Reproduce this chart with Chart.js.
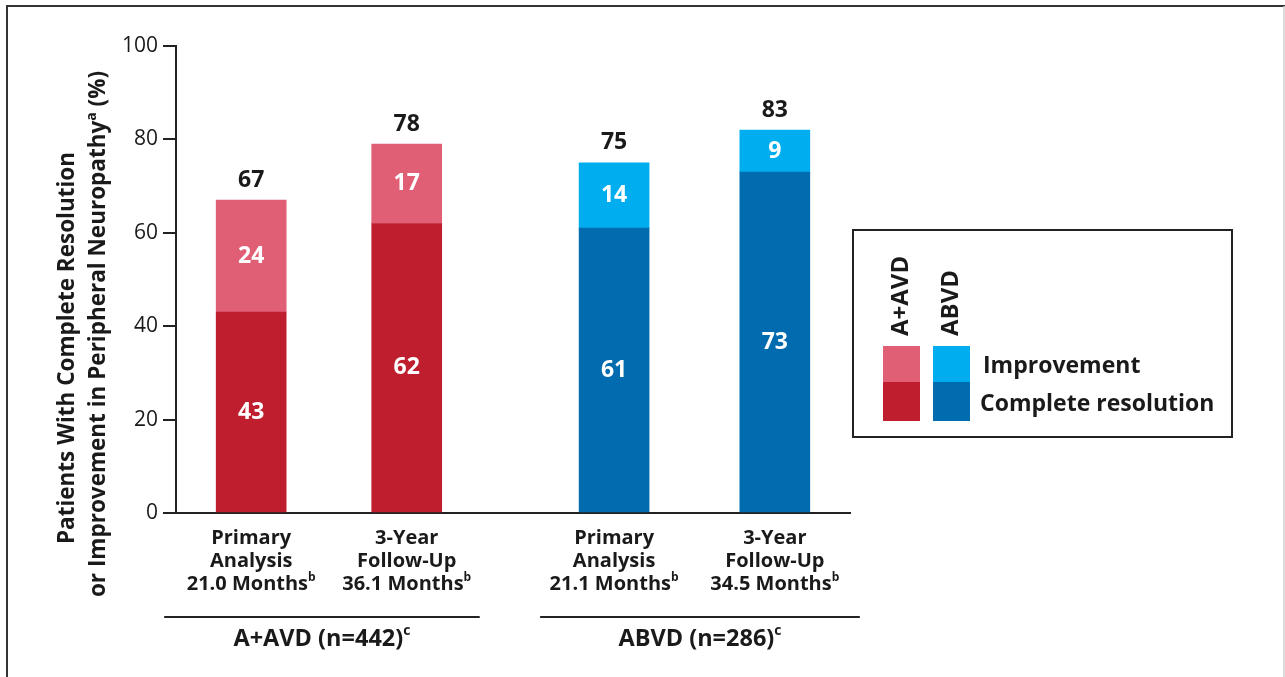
<!DOCTYPE html>
<html>
<head>
<meta charset="utf-8">
<script src="https://cdn.jsdelivr.net/npm/chart.js@4.4.1/dist/chart.umd.min.js"></script>
<style>
html, body { margin: 0; padding: 0; background: #fff; }
#graphCanvas { display: block; }
</style>
</head>
<body>
<canvas id="graphCanvas" width="1285" height="677"></canvas>
<script>
// Categories, one per bar (last line gets a "b" footnote marker)
const barLines = [
    ['Primary', 'Analysis', '21.0 Months'],
    ['3-Year', 'Follow-Up', '36.1 Months'],
    ['Primary', 'Analysis', '21.1 Months'],
    ['3-Year', 'Follow-Up', '34.5 Months']
];
const barNote = 'b';

// Treatment arms under the bars
const groupNames = ['A+AVD (n=442)', 'ABVD (n=286)'];
const groupNote = 'c';
const groupMembers = [[0, 1], [2, 3]];

// Series values (%)
const completeResolution = [43, 62, 61, 73];
const improvement = [24, 17, 14, 9];
const totals = [67, 78, 75, 83];

// Axis
const yTicks = [0, 20, 40, 60, 80, 100];
const yTitleLine1 = 'Patients With Complete Resolution';
const yTitleLine2 = 'or Improvement in Peripheral Neuropathy';

// Legend
const legendArms = ['A+AVD', 'ABVD'];
const legendItems = ['Improvement', 'Complete resolution'];

// Layout / styling
const FONT = '"Open Sans", "DejaVu Sans", sans-serif';
const barSlots = [0, 3, 7, 10.1];
const darkColors = ['#be1e2d', '#be1e2d', '#006bae', '#006bae'];
const lightColors = ['#e15f74', '#e15f74', '#00aeef', '#00aeef'];
const groupLineReach = [[-87, 73], [-74, 85]];
const INK = '#1a1a1a';

const ctx = document.getElementById('graphCanvas').getContext('2d');

// Text with a raised footnote marker, centred on x
function drawRich(c, parts, x, y, size, color) {
    const big = `700 ${size}px ${FONT}`;
    const small = `700 ${Math.round(size * 0.6)}px ${FONT}`;
    let w = 0;
    parts.forEach(p => {
        c.font = p.sup ? small : big;
        p.w = c.measureText(p.t).width;
        w += p.w;
    });
    let cx = x - w / 2;
    c.textAlign = 'left';
    c.textBaseline = 'middle';
    c.fillStyle = color;
    parts.forEach(p => {
        c.font = p.sup ? small : big;
        c.fillText(p.t, cx, p.sup ? y - size * 0.33 : y);
        cx += p.w;
    });
}

const decorations = {
    id: 'decorations',
    beforeDraw(chart) {
        const c = chart.ctx;
        c.save();
        c.fillStyle = '#fff';
        c.fillRect(0, 0, chart.width, chart.height);
        // page frame
        c.strokeStyle = '#333';
        c.lineWidth = 2;
        c.beginPath();
        c.moveTo(7, chart.height);
        c.lineTo(7, 6);
        c.lineTo(chart.width, 6);
        c.stroke();
        c.strokeStyle = '#cfcfcf';
        c.lineWidth = 1.5;
        c.beginPath();
        c.moveTo(chart.width - 1, 6);
        c.lineTo(chart.width - 1, chart.height);
        c.stroke();
        c.restore();
    },
    afterDatasetsDraw(chart) {
        const c = chart.ctx;
        const low = chart.getDatasetMeta(0).data;
        const high = chart.getDatasetMeta(1).data;
        c.save();
        c.textAlign = 'center';
        c.textBaseline = 'middle';
        c.font = `700 23px ${FONT}`;
        c.fillStyle = '#fff';
        low.forEach((el, i) => c.fillText(String(completeResolution[i]), el.x, (el.y + el.base) / 2));
        high.forEach((el, i) => c.fillText(String(improvement[i]), el.x, (el.y + el.base) / 2));
        c.fillStyle = INK;
        high.forEach((el, i) => c.fillText(String(totals[i]), el.x, el.y - 20));
        c.restore();
    },
    afterDraw(chart) {
        const c = chart.ctx;
        const area = chart.chartArea;
        const xs = chart.scales.x;
        c.save();

        // y axis title, two rotated lines
        c.translate(68, 348);
        c.rotate(-Math.PI / 2);
        drawRich(c, [{ t: yTitleLine1 }], 0, 0, 22.5, INK);
        c.restore();
        c.save();
        c.translate(99, 334);
        c.rotate(-Math.PI / 2);
        drawRich(c, [{ t: yTitleLine2 }, { t: 'a', sup: true }, { t: ' (%)' }], 0, 0, 22.5, INK);
        c.restore();

        // bar category labels
        c.save();
        barLines.forEach((lines, i) => {
            const x = xs.getPixelForValue(barSlots[i]);
            lines.forEach((line, j) => {
                const parts = j === lines.length - 1 ? [{ t: line }, { t: barNote, sup: true }] : [{ t: line }];
                drawRich(c, parts, x, area.bottom + 25 + j * 23, 20, INK);
            });
        });

        // arm brackets and names
        groupNames.forEach((name, g) => {
            const members = groupMembers[g];
            const x0 = xs.getPixelForValue(barSlots[members[0]]) + groupLineReach[g][0];
            const x1 = xs.getPixelForValue(barSlots[members[members.length - 1]]) + groupLineReach[g][1];
            c.strokeStyle = '#222';
            c.lineWidth = 2;
            c.beginPath();
            c.moveTo(x0, area.bottom + 104);
            c.lineTo(x1, area.bottom + 104);
            c.stroke();
            drawRich(c, [{ t: name }, { t: groupNote, sup: true }], (x0 + x1) / 2, area.bottom + 126, 23.5, INK);
        });

        // legend box
        const lx = 853, ly = 230, lw = 379, lh = 207;
        c.strokeStyle = '#222';
        c.lineWidth = 2;
        c.strokeRect(lx, ly, lw, lh);
        const swX = [883, 933];
        const swLight = [lightColors[0], lightColors[2]];
        const swDark = [darkColors[0], darkColors[2]];
        legendArms.forEach((arm, k) => {
            c.fillStyle = swLight[k];
            c.fillRect(swX[k], 346, 37, 37);
            c.fillStyle = swDark[k];
            c.fillRect(swX[k], 382, 37, 39);
            c.save();
            c.translate(swX[k] + 18.5, 336);
            c.rotate(-Math.PI / 2);
            c.font = `700 24px ${FONT}`;
            c.fillStyle = INK;
            c.textAlign = 'left';
            c.textBaseline = 'middle';
            c.fillText(arm, 0, 0);
            c.restore();
        });
        c.font = `700 23px ${FONT}`;
        c.fillStyle = INK;
        c.textAlign = 'left';
        c.textBaseline = 'middle';
        c.fillText(legendItems[0], 983, 366);
        c.fillText(legendItems[1], 980, 404);
        c.restore();
    }
};

const chart = new Chart(ctx, {
    type: 'bar',
    data: {
        datasets: [
            {
                label: legendItems[1],
                data: completeResolution.map((v, i) => ({ x: barSlots[i], y: v })),
                backgroundColor: darkColors,
                borderWidth: 0,
                barThickness: 70
            },
            {
                label: legendItems[0],
                data: improvement.map((v, i) => ({ x: barSlots[i], y: v })),
                backgroundColor: lightColors,
                borderWidth: 0,
                barThickness: 70
            }
        ]
    },
    options: {
        responsive: false,
        devicePixelRatio: 1,
        animation: false,
        layout: {
            padding: { top: 46, bottom: 164, left: 0, right: 435 }
        },
        scales: {
            x: {
                type: 'linear',
                stacked: true,
                offset: false,
                min: -1.45,
                max: 11.55,
                ticks: { display: false },
                grid: { display: false, drawTicks: false, offset: false },
                border: { display: true, color: '#222', width: 2 },
                afterFit(scale) { scale.height = 0; }
            },
            y: {
                stacked: true,
                min: 0,
                max: 100,
                afterBuildTicks(scale) { scale.ticks = yTicks.map(v => ({ value: v })); },
                afterFit(scale) { scale.width = 176; },
                ticks: {
                    color: INK,
                    padding: 5,
                    font: { family: FONT, size: 21, weight: '400' }
                },
                grid: {
                    drawOnChartArea: false,
                    drawTicks: true,
                    tickLength: 13,
                    color: '#222',
                    lineWidth: 2
                },
                border: { display: true, color: '#222', width: 2 }
            }
        },
        plugins: {
            legend: { display: false },
            tooltip: { enabled: false }
        }
    },
    plugins: [decorations]
});
</script>
</body>
</html>
